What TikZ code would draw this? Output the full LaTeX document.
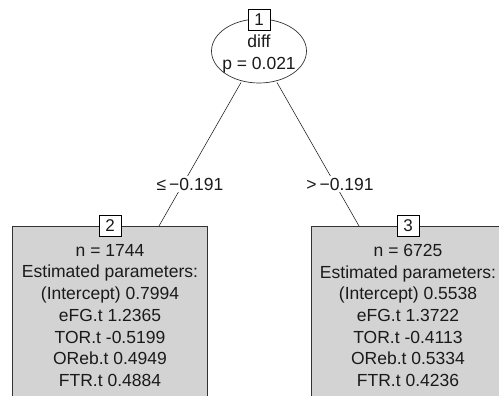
\documentclass[tikz,border=0pt]{standalone}
\usepackage{fontspec}
\setmainfont{Liberation Sans}
\usetikzlibrary{shapes.geometric}
\definecolor{termfill}{HTML}{D3D3D3}
\definecolor{inkc}{HTML}{1A1A1A}
\tikzset{
  innernode/.style={draw=black!80, ellipse, minimum width=95pt, minimum height=64pt, inner sep=0pt, line width=0.7pt},
  termbox/.style={draw=black!80, fill=termfill, line width=0.9pt},
  idbox/.style={draw=black, fill=white, line width=0.7pt, minimum width=22pt, minimum height=21pt, inner sep=0pt, font=\fontsize{17}{20}\selectfont, text=inkc},
  bodytext/.style={align=center, font=\fontsize{17.5}{21.7}\selectfont, text=inkc, inner sep=0pt},
  edgelab/.style={fill=white, inner sep=2pt, font=\fontsize{17.5}{20}\selectfont, text=inkc},
  edge/.style={draw=black!85, line width=0.6pt}
}
\begin{document}
\begin{tikzpicture}[x=1pt,y=-1pt]
\useasboundingbox (0,0) rectangle (499,396);
\clip (0,0) rectangle (499,396);

% root split node
\node[innernode] (n1) at (259,51) {};
\node[bodytext] (n1txt) at (259,54) {diff\\p = 0.021};

% terminal nodes (cut off at the lower edge)
\draw[termbox] (12,226) rectangle (207,420);
\coordinate (n2top) at (159,226);
\draw[termbox] (311,226) rectangle (506,420);
\coordinate (n3top) at (359,226);

\coordinate (n1l) at (241,82.5);
\coordinate (n1r) at (277,82.5);

% connectors with split labels
\draw[edge] (n1l) -- (n2top);
\draw[edge] (n1r) -- (n3top);
\node[edgelab] (lab2) at (190,184) {≤\,−0.191};
\node[edgelab] (lab3) at (340,184) {>\,−0.191};

% node id boxes
\node[idbox] (id1) at (259,19.5) {1};
\node[idbox] (id2) at (110,226) {2};
\node[idbox] (id3) at (408,226) {3};

% terminal node contents
\node[bodytext, anchor=north] (t2) at (110,244) {n = 1744\\Estimated parameters:\\(Intercept) 0.7994\\eFG.t 1.2365\\TOR.t -0.5199\\OReb.t 0.4949\\FTR.t 0.4884};
\node[bodytext, anchor=north] (t3) at (408,244) {n = 6725\\Estimated parameters:\\(Intercept) 0.5538\\eFG.t 1.3722\\TOR.t -0.4113\\OReb.t 0.5334\\FTR.t 0.4236};
\end{tikzpicture}
\end{document}
